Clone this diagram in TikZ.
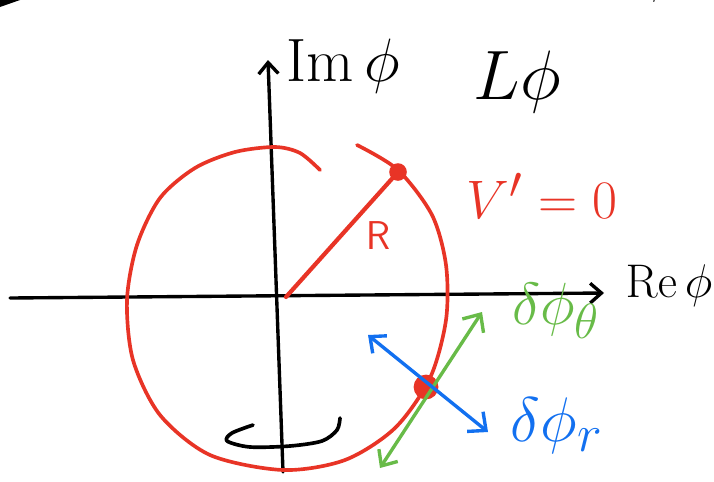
\documentclass[tikz,border=0pt]{standalone}
\usepackage{tikz}
\usetikzlibrary{arrows.meta}
\definecolor{SkRed}{RGB}{232,52,38}
\definecolor{SkGreen}{RGB}{104,187,72}
\definecolor{SkBlue}{RGB}{18,112,240}

\begin{document}
\begin{tikzpicture}[x=0.025cm, y=-0.025cm,
            ink/.style={line width=2.2pt, line cap=round, line join=round},
            axis/.style={ink, line width=2.4pt,
                         -{Straight Barb[length=8pt, width=14pt]}},
            dbl/.style={ink, line width=2.4pt, {Straight Barb[length=9pt, width=16pt]}-{Straight Barb[length=10pt, width=18pt]}},
            dot/.style={circle, fill=SkRed, inner sep=0pt, minimum size=0.44cm},
            lbl/.style={inner sep=0pt, font=\Huge, transform shape}
          ]
          \useasboundingbox (0,0) rectangle (714,481);

          % axes
          \coordinate (o)  at (286,297);
          \coordinate (xl) at (10,298);
          \coordinate (xr) at (604,293);
          \coordinate (yb) at (283,472);
          \coordinate (yt) at (268,60);
          \draw[axis] (xl) -- (xr);
          \draw[axis] (yb) -- (yt);
          \node[lbl, scale=1.75] (imphi) at (343,66)  {$\mathrm{Im}\,\phi$};
          \node[lbl, scale=1.35] (rephi) at (669,286) {$\mathrm{Re}\,\phi$};
          \node[lbl, scale=2.0]  (lphi)  at (517,82)  {$L\phi$};

          % cut-off scribbles at the top edge
          \fill (0,0) -- (20,0) -- (0,7) -- cycle;
          \node[lbl, scale=1.4] (rephitop) at (628,-20) {$\mathrm{Re}\,\phi$};

          % circle V'=0
          \draw[ink, SkRed, line width=2.6pt] plot[smooth] coordinates {
                (320,170) (300,153) (275,147) (235,152) (195,168) (160,198)
                (137,245) (127,300) (133,360) (160,415) (210,455) (283,470)
                (345,460) (395,428) (430,378) (446,320) (446,265) (432,215)
                (398,170) (357,145)};
          \node[dot] (p1) at (398,172) {};
          \draw[ink, SkRed, line width=3pt] (o) -- (p1.center);
          \node[lbl, scale=1.15, text=SkRed] (rlab) at (378,236) {$\mathsf{R}$};
          \node[lbl, scale=1.55, text=SkRed] (veq) at (542,196) {$V' = 0$};

          % fluctuations
          \node[dot, minimum size=0.62cm] (p2) at (426,387) {};
          \coordinate (g1) at (380,468);
          \coordinate (g2) at (482,312);
          \coordinate (b1) at (368,335);
          \coordinate (b2) at (488,432);
          \draw[dbl, SkGreen] (g1) -- (g2);
          \draw[dbl, SkBlue] (b1) -- (b2);
          \node[lbl, scale=1.7, text=SkGreen] (dth) at (556,311) {$\delta\phi_\theta$};
          \node[lbl, scale=1.8, text=SkBlue]  (dr)  at (557,426) {$\delta\phi_r$};

          % contour
          \draw[ink, line width=2.6pt] plot[smooth] coordinates {
                (253,425) (232,433) (227,441) (250,447) (290,446)
                (322,441) (337,430) (340,418)};
        \end{tikzpicture}
\end{document}
